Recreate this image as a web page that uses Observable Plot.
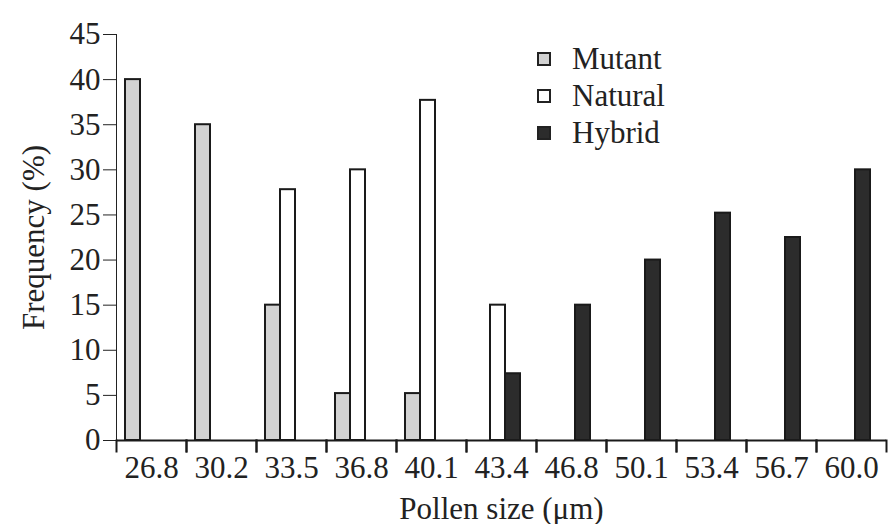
<!DOCTYPE html>
<html>
<head>
<meta charset="utf-8">
<script src="https://cdn.jsdelivr.net/npm/d3@7"></script>
<script src="https://cdn.jsdelivr.net/npm/@observablehq/plot@0.6"></script>
<style>
  html, body { margin: 0; padding: 0; background: #fff; }
  #wrap { position: relative; width: 893px; height: 524px; overflow: hidden; }
  #legend { position: absolute; left: 537px; top: 40px; font-family: "Liberation Serif", "Times New Roman", Tinos, "DejaVu Serif", serif; font-size: 31px; color: #222; line-height: 37px; }
  #legend .row { display: flex; align-items: center; }
  #legend .sw { width: 10px; height: 10px; border: 2px solid #222; margin-right: 21px; }
</style>
</head>
<body>
<div id="wrap"><div id="legend"></div></div>
<script>
const sizes = ["26.8", "30.2", "33.5", "36.8", "40.1", "43.4", "46.8", "50.1", "53.4", "56.7", "60.0"];
const seriesNames = ["Mutant", "Natural", "Hybrid"];
const mutant  = [40, 35, 15, 5.2, 5.2, 0, 0, 0, 0, 0, 0];
const natural = [0, 0, 27.8, 30, 37.7, 15, 0, 0, 0, 0, 0];
const hybrid  = [0, 0, 0, 0, 0, 7.4, 15, 20, 25.2, 22.5, 30];
const seriesColors = ["#d2d2d2", "#ffffff", "#2c2c2c"];
const yTicks = [0, 5, 10, 15, 20, 25, 30, 35, 40, 45];

const seriesValues = [mutant, natural, hybrid];
const rows = [];
sizes.forEach((s, i) => {
  seriesNames.forEach((name, k) => {
    const v = seriesValues[k][i];
    if (v > 0) rows.push({size: s, series: name, value: v});
  });
});

const chart = Plot.plot({
  width: 893,
  height: 524,
  marginLeft: 112,
  marginRight: 3,
  marginTop: 34,
  marginBottom: 84,
  style: {fontFamily: "'Liberation Serif', 'Times New Roman', Tinos, 'DejaVu Serif', serif", fontSize: "31px", color: "#222", background: "#fff", overflow: "visible"},
  facet: {data: rows, x: "size"},
  fx: {
    domain: sizes,
    padding: 0,
    axis: "bottom",
    tickSize: 0,
    tickPadding: 15,
    label: "Pollen size (μm)",
    labelAnchor: "center",
    labelOffset: 78
  },
  x: {
    domain: seriesNames,
    paddingInner: 0,
    paddingOuter: 0.78,
    align: 0.35,
    axis: null
  },
  y: {
    domain: [0, 45],
    ticks: yTicks,
    tickSize: 13,
    tickPadding: 3,
    line: true,
    label: "Frequency (%)",
    labelArrow: false,
    labelAnchor: "center",
    labelOffset: 95
  },
  color: {domain: seriesNames, range: seriesColors},
  marks: [
    Plot.barY(rows, {x: "series", y: "value", fill: "series", stroke: "#1a1a1a", strokeWidth: 2}),
    Plot.frame({anchor: "left", insetTop: 406, insetBottom: -11, stroke: "#1a1a1a", strokeWidth: 2}),
    Plot.frame({anchor: "right", insetTop: 406, insetBottom: -11, stroke: "#1a1a1a", strokeWidth: 2}),
    Plot.ruleY([0], {stroke: "#1a1a1a", strokeWidth: 2})
  ]
});
document.getElementById("wrap").prepend(chart);

const legend = document.getElementById("legend");
seriesNames.forEach((name, k) => {
  const row = document.createElement("div");
  row.className = "row";
  const sw = document.createElement("span");
  sw.className = "sw";
  sw.style.background = seriesColors[k];
  const label = document.createElement("span");
  label.textContent = name;
  row.append(sw, label);
  legend.append(row);
});
</script>
</body>
</html>
